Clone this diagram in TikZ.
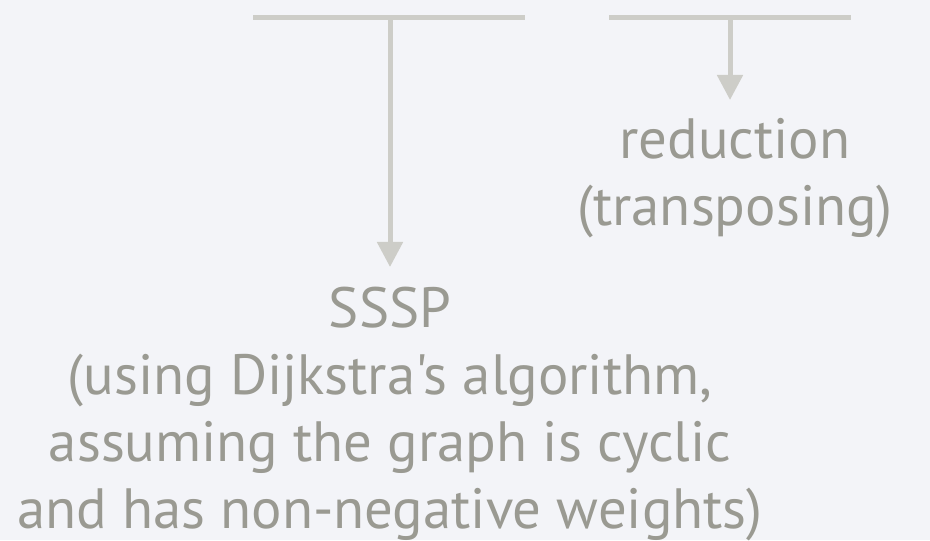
\documentclass[tikz,border=0pt]{standalone}
\usepackage{fontspec}
\setmainfont{PT Sans}[Ligatures=TeXOff]
\usetikzlibrary{arrows.meta, positioning}
\definecolor{PaleBg}{RGB}{243, 244, 248}
\definecolor{NoteGray}{RGB}{154, 154, 146}
\definecolor{BarGray}{RGB}{205, 205, 200}

\begin{document}
\begin{tikzpicture}[
    x=0.5pt, y=0.5pt,
    note/.style={text=NoteGray, align=center, inner sep=0pt, font=\fontsize{28.4}{33.5}\selectfont},
    bar/.style={draw=BarGray, line width=2.5pt},
    arrow/.style={draw=BarGray, line width=2.5pt, -{Triangle[length=12.5pt, width=12.5pt]}}
]
    % Background and frame
    \fill[PaleBg] (0,0) rectangle (930,540);
    \useasboundingbox (0,0) rectangle (930,540);

    % Bracket bars under the formula
    \coordinate (leftA) at (253,522);
    \coordinate (leftB) at (525,522);
    \coordinate (leftM) at (390,522);
    \coordinate (rightA) at (609,522);
    \coordinate (rightB) at (851,522);
    \coordinate (rightM) at (730,522);
    \draw [bar] (leftA) -- (leftB);
    \draw [bar] (rightA) -- (rightB);

    % Notes
    \node (sssp) [note, anchor=north] at (390,253) {SSSP\\(using Dijkstra's algorithm,\\assuming the graph is cyclic\\and has non-negative weights)};
    \node (reduce) [note, anchor=north] at (735,422) {reduction\\(transposing)};

    % Arrows
    \draw [arrow, shorten >=10pt] (leftM) -- (leftM |- sssp.north);
    \draw [arrow, shorten >=9pt] (rightM) -- (rightM |- reduce.north);
\end{tikzpicture}
\end{document}
